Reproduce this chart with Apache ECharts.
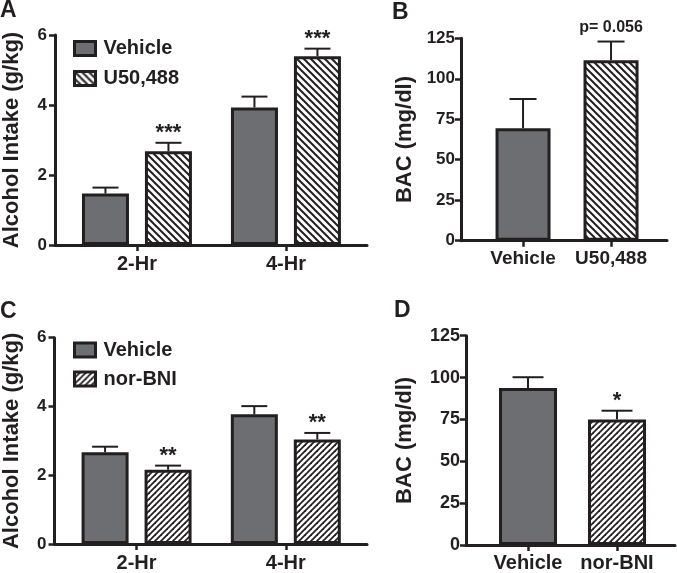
<!DOCTYPE html>
<html><head><meta charset="utf-8">
<script src="https://cdn.jsdelivr.net/npm/echarts@6/dist/echarts.min.js"></script>
<style>html,body{margin:0;padding:0;background:#fff}#c{width:677px;height:573px}</style>
</head><body><div id="c"></div>
<script>
// ---------- data ----------
const catsIntake = ['2-Hr', '4-Hr'];
const intakeTicks = { min: 0, max: 6, interval: 2 };
const bacTicks = { min: 0, max: 125, interval: 25 };

// Panel A
const aVehicleMean = [1.47, 3.93];
const aVehicleSem = [0.17, 0.31];
const aU50Mean = [2.68, 5.39];
const aU50Sem = [0.24, 0.22];
const aVehicleSig = ['', ''];
const aU50Sig = ['***', '***'];

// Panel B
const catsB = ['Vehicle', 'U50,488'];
const bMean = [69.5, 111.5];
const bSem = [18, 11.5];
const bSig = ['', 'p= 0.056'];

// Panel C
const cVehicleMean = [2.67, 3.77];
const cVehicleSem = [0.16, 0.24];
const cNorMean = [2.16, 3.04];
const cNorSem = [0.12, 0.19];
const cVehicleSig = ['', ''];
const cNorSig = ['**', '**'];

// Panel D
const catsD = ['Vehicle', 'nor-BNI'];
const dMean = [93.8, 75.0];
const dSem = [6.4, 5.2];
const dSig = ['', '*'];

// ---------- style ----------
const INK = '#231f20';
const GRAY = '#6d6e71';
const FONT = '"Liberation Sans", Arial, Helvetica, sans-serif';

function hatch(dir, s, lw) {
  const c = document.createElement('canvas');
  c.width = s; c.height = s;
  const g = c.getContext('2d');
  g.fillStyle = '#fff'; g.fillRect(0, 0, s, s);
  g.strokeStyle = INK; g.lineWidth = lw;
  for (let k = -1; k <= 1; k++) {
    g.beginPath();
    if (dir === '\\') { g.moveTo(k * s - 1, -1); g.lineTo(k * s + s + 1, s + 1); }
    else { g.moveTo(k * s + s + 1, -1); g.lineTo(k * s - 1, s + 1); }
    g.stroke();
  }
  return { image: c, repeat: 'repeat' };
}
const HATCH_BACK = hatch('\\', 7, 2);
const HATCH_FWD = hatch('/', 6, 1.8);

const chart = echarts.init(document.getElementById('c'), null, { renderer: 'canvas' });

const grids = [
  { left: 55, top: 35, width: 312, height: 210 },
  { left: 461, top: 38.3, width: 206, height: 202.4 },
  { left: 54.5, top: 337.7, width: 312.5, height: 208.3 },
  { left: 466, top: 335.7, width: 209, height: 209.3 }
];

function xAxis(gi, cats, min, max, fs, margin) {
  return {
    type: 'value', gridIndex: gi, min: min, max: max,
    splitLine: { show: false },
    axisLine: { show: true, onZero: false, lineStyle: { color: INK, width: 3 } },
    axisTick: { show: true, length: 6, customValues: [0, 1], lineStyle: { color: INK, width: 2.5 } },
    axisLabel: { customValues: [0, 1], margin: margin, color: INK, fontSize: fs, fontWeight: 'bold', fontFamily: FONT,
      formatter: v => cats[Math.round(v)] }
  };
}
function yAxis(gi, t, name, gap, fs, margin) {
  return {
    type: 'value', gridIndex: gi, min: t.min, max: t.max, interval: t.interval,
    name: name, nameLocation: 'middle', nameGap: gap, nameRotate: 90,
    nameTextStyle: { color: INK, fontSize: 22, fontWeight: 'bold', fontFamily: FONT },
    splitLine: { show: false },
    axisLine: { show: true, onZero: false, lineStyle: { color: INK, width: 3 } },
    axisTick: { show: true, length: 6, lineStyle: { color: INK, width: 2.5 } },
    axisLabel: { margin: margin, color: INK, fontSize: fs, fontWeight: 'bold', fontFamily: FONT }
  };
}

function bar(name, gi, means, bw, colorFn) {
  return {
    type: 'bar', name: name, xAxisIndex: gi, yAxisIndex: gi,
    barWidth: bw, barGap: '34%',
    itemStyle: { color: colorFn(0), borderColor: INK, borderWidth: 3 },
    data: means.map((m, i) => ({ value: [i, m], itemStyle: { color: colorFn(i) } })),
    z: 2
  };
}

function errs(gi, means, sems, sigs, offset, capW, sigFont, sigLift) {
  return {
    type: 'custom', xAxisIndex: gi, yAxisIndex: gi, z: 5, silent: true,
    encode: { x: 0, y: 1 },
    data: means.map((m, i) => [i, m, sems[i]]),
    renderItem: function (params, api) {
      const x = api.value(0), m = api.value(1), s = api.value(2);
      const p0 = api.coord([x, m]);
      const p1 = api.coord([x, m + s]);
      const cx = p0[0] + offset;
      const ls = { stroke: INK, lineWidth: 2 };
      const children = [
        { type: 'line', shape: { x1: cx, y1: p0[1], x2: cx, y2: p1[1] }, style: ls },
        { type: 'line', shape: { x1: cx - capW / 2, y1: p1[1], x2: cx + capW / 2, y2: p1[1] }, style: ls }
      ];
      const t = sigs[params.dataIndex];
      if (t) children.push({ type: 'text', style: { text: t, x: cx, y: p1[1] - sigLift,
        align: 'center', verticalAlign: 'bottom', fill: INK,
        font: 'bold ' + sigFont + 'px ' + FONT } });
      return { type: 'group', children: children };
    }
  };
}

const barOff = (47 + 16) / 2;
const legendText = { color: INK, fontSize: 20, fontWeight: 'bold', fontFamily: FONT, padding: [0, 0, 0, 3] };

const option = {
  animation: false,
  backgroundColor: '#fff',
  title: [
    { text: 'A', left: 0, top: -1, padding: 0, textStyle: { color: INK, fontSize: 23, fontWeight: 'bold', fontFamily: FONT } },
    { text: 'B', left: 392, top: 1, padding: 0, textStyle: { color: INK, fontSize: 23, fontWeight: 'bold', fontFamily: FONT } },
    { text: 'C', left: 0, top: 300, padding: 0, textStyle: { color: INK, fontSize: 23, fontWeight: 'bold', fontFamily: FONT } },
    { text: 'D', left: 394, top: 299, padding: 0, textStyle: { color: INK, fontSize: 23, fontWeight: 'bold', fontFamily: FONT } }
  ],
  legend: [
    { data: ['Vehicle', 'U50,488'], orient: 'vertical', left: 68, top: 33.5, itemGap: 10,
      itemWidth: 21, itemHeight: 14, icon: 'rect', selectedMode: false,
      itemStyle: { borderColor: INK, borderWidth: 3 }, textStyle: legendText },
    { data: ['Vehicle', 'nor-BNI'], orient: 'vertical', left: 68, top: 335, itemGap: 9,
      itemWidth: 21, itemHeight: 14, icon: 'rect', selectedMode: false,
      itemStyle: { borderColor: INK, borderWidth: 3 }, textStyle: legendText }
  ],
  grid: grids,
  xAxis: [
    xAxis(0, catsIntake, -0.55, 1.544, 20, 9),
    xAxis(1, catsB, -0.705, 1.636, 19, 9),
    xAxis(2, catsIntake, -0.55, 1.544, 20, 9),
    xAxis(3, catsD, -0.697, 1.652, 20, 8)
  ],
  yAxis: [
    yAxis(0, intakeTicks, 'Alcohol Intake (g/kg)', 32, 17, 8),
    yAxis(1, bacTicks, 'BAC (mg/dl)', 45, 17, 6),
    yAxis(2, intakeTicks, 'Alcohol Intake (g/kg)', 31.5, 17, 8),
    yAxis(3, bacTicks, 'BAC (mg/dl)', 50, 18, 6)
  ],
  series: [
    bar('Vehicle', 0, aVehicleMean, 47, () => GRAY),
    bar('U50,488', 0, aU50Mean, 47, () => HATCH_BACK),
    errs(0, aVehicleMean, aVehicleSem, aVehicleSig, -barOff, 26, 22, -1),
    errs(0, aU50Mean, aU50Sem, aU50Sig, barOff, 26, 22, -1),

    bar('B', 1, bMean, 55, i => (i === 0 ? GRAY : HATCH_BACK)),
    errs(1, bMean, bSem, bSig, 0, 27, 16, 6),

    bar('Vehicle', 2, cVehicleMean, 47, () => GRAY),
    bar('nor-BNI', 2, cNorMean, 47, () => HATCH_FWD),
    errs(2, cVehicleMean, cVehicleSem, cVehicleSig, -barOff, 26, 22, -1),
    errs(2, cNorMean, cNorSem, cNorSig, barOff, 26, 22, -1),

    bar('D', 3, dMean, 58, i => (i === 0 ? GRAY : HATCH_FWD)),
    errs(3, dMean, dSem, dSig, 0, 31, 22, -1)
  ]
};
chart.setOption(option);
</script>
</body></html>
